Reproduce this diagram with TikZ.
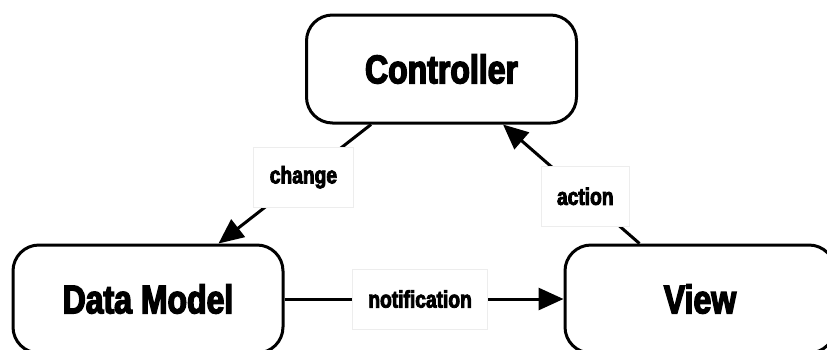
\documentclass[tikz,border=0pt]{standalone}
\usepackage{fontspec}
\newfontfamily\hv{Liberation Sans Bold}[FakeStretch=0.8, FakeBold=3.5]
\usetikzlibrary{arrows.meta}
\tikzset{
  mvcbox/.style={draw=black, line width=3pt, rounded corners=26pt, fill=white,
    minimum width=270pt, minimum height=108pt, inner sep=0pt,
    font=\hv\fontsize{40}{41}\selectfont},
  lbl/.style={draw=black!7, line width=1pt, fill=white, minimum height=60pt,
    inner xsep=16pt, inner ysep=0pt, font=\hv\fontsize{24}{25}\selectfont},
  conn/.style={line width=3pt, draw=black},
  tip/.style={-{Triangle[length=25pt,width=22pt]}}
}
\begin{document}
\begin{tikzpicture}[x=1pt,y=-1pt]
\useasboundingbox (0,0) rectangle (827,349);
\clip (0,0) rectangle (827,349);
\node[mvcbox] (ctrl) at (441.5,69) {Controller};
\node[mvcbox] (dm) at (148,299) {Data Model};
\node[mvcbox] (view) at (700,299) {View};
\draw[conn,tip] ([xshift=66pt]ctrl.south west) -- node[lbl,pos=0.443] (lchange) {change} ([xshift=207pt]dm.north west);
\draw[conn,tip] ([xshift=76pt]view.north west) -- node[lbl,pos=0.397] (laction) {action} ([xshift=198pt]ctrl.south west);
\draw[conn,tip] (dm.east) -- node[lbl,pos=0.486] (lnotif) {notification} (view.west);
\end{tikzpicture}
\end{document}
